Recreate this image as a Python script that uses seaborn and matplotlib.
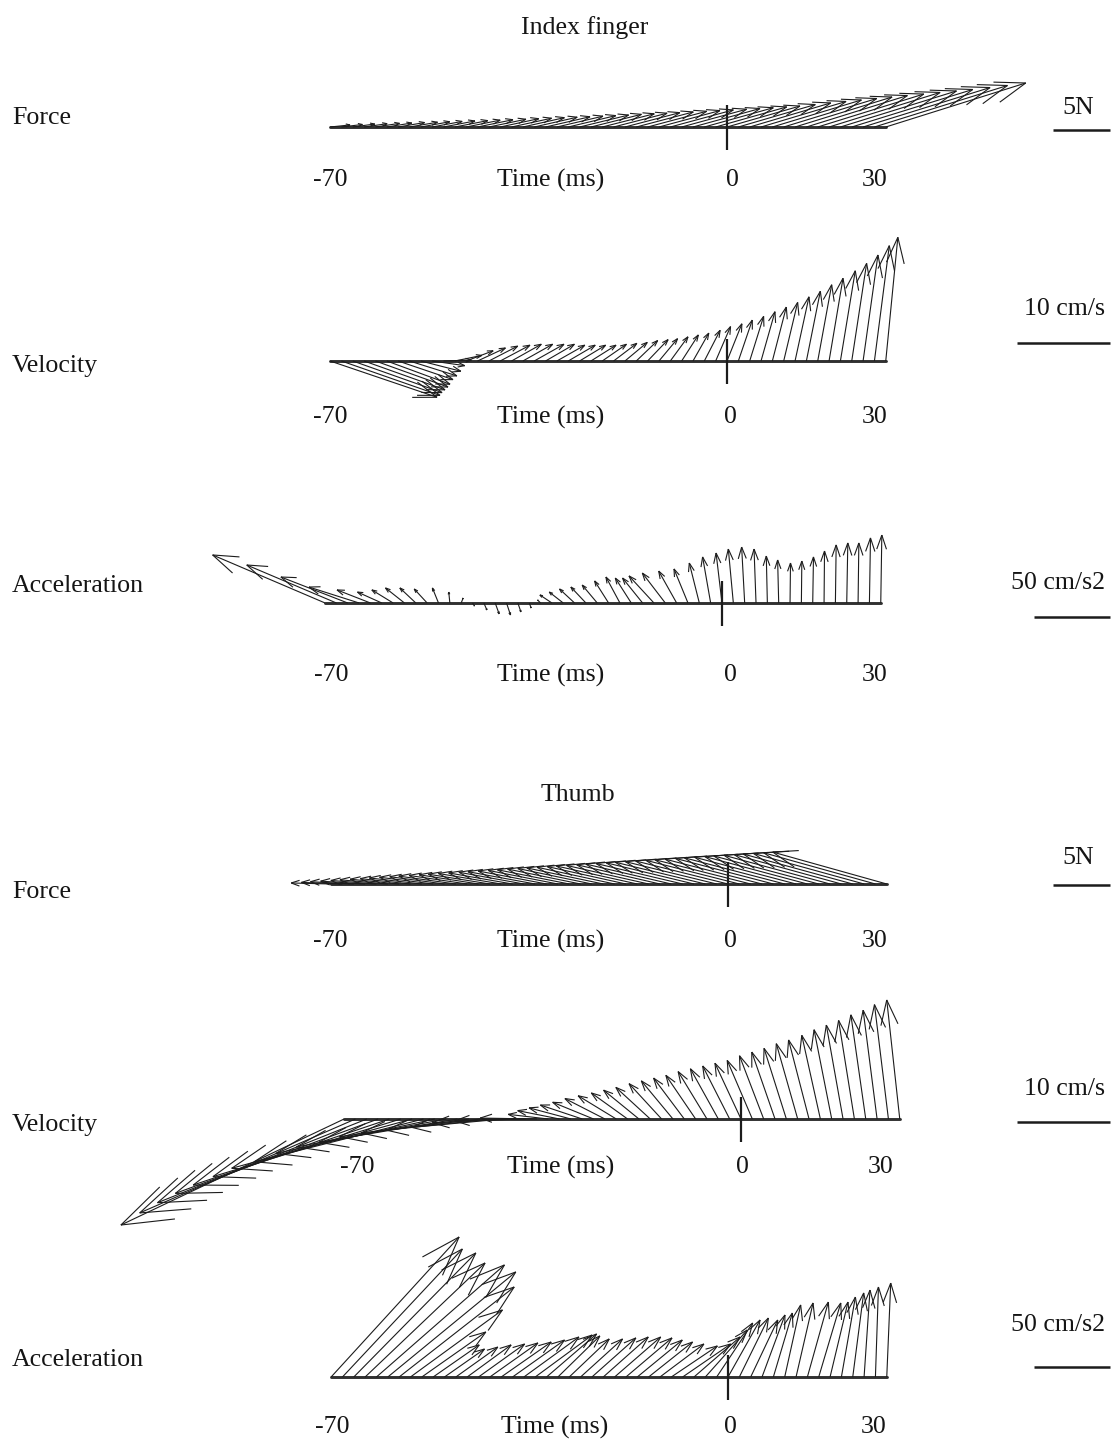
import numpy as np
import matplotlib
matplotlib.use("Agg")
import matplotlib.pyplot as plt
from matplotlib.collections import LineCollection
import seaborn as sns

# ---------------------------------------------------------------- data
# sample times (ms), one vector per sample
TIME_MS = np.arange(-70, 30, 2)

# index finger: grip force (N)
INDEX_FORCE_X = [1.75, 1.84, 1.93, 2.02, 2.11, 2.19, 2.32, 2.46, 2.54, 2.63,
                 2.76, 2.89, 2.98, 3.11, 3.25, 3.38, 3.51, 3.64, 3.77, 3.90,
                 4.04, 4.17, 4.30, 4.43, 4.56, 4.69, 4.82, 5.00, 5.18, 5.35,
                 5.53, 5.70, 5.88, 6.05, 6.23, 6.40, 6.75, 7.11, 7.46, 7.81,
                 8.16, 8.51, 8.86, 9.30, 9.74, 10.18, 10.61, 11.14, 11.67, 12.28]
INDEX_FORCE_Y = [0.18, 0.22, 0.26, 0.29, 0.32, 0.35, 0.39, 0.42, 0.46, 0.49,
                 0.53, 0.56, 0.60, 0.64, 0.68, 0.73, 0.77, 0.82, 0.86, 0.90,
                 0.95, 1.00, 1.05, 1.11, 1.16, 1.21, 1.26, 1.32, 1.38, 1.44,
                 1.50, 1.56, 1.62, 1.69, 1.76, 1.84, 1.97, 2.11, 2.24, 2.37,
                 2.50, 2.63, 2.76, 2.89, 3.03, 3.16, 3.29, 3.46, 3.64, 3.86]

# index finger: velocity (cm/s)
INDEX_VEL_X = [11.5, 10.6, 9.6, 8.7, 7.8, 6.8, 5.9, 5.1, 4.3, 3.5,
               3.0, 2.9, 2.9, 3.0, 3.1, 3.2, 3.2, 3.2, 3.2, 3.1,
               3.0, 2.9, 2.8, 2.7, 2.6, 2.5, 2.4, 2.3, 2.2, 2.0,
               1.9, 1.8, 1.7, 1.7, 1.6, 1.6, 1.5, 1.5, 1.5, 1.5,
               1.5, 1.5, 1.5, 1.5, 1.5, 1.6, 1.6, 1.6, 1.6, 1.3]
INDEX_VEL_Y = [-3.9, -3.7, -3.4, -3.1, -2.8, -2.5, -2.0, -1.6, -1.1, -0.5,
               0.1, 0.6, 1.1, 1.4, 1.6, 1.7, 1.8, 1.8, 1.8, 1.8,
               1.7, 1.7, 1.7, 1.7, 1.8, 1.9, 2.0, 2.2, 2.3, 2.4,
               2.6, 2.8, 3.0, 3.3, 3.7, 4.0, 4.4, 4.8, 5.3, 5.8,
               6.3, 6.9, 7.5, 8.2, 8.9, 9.7, 10.5, 11.4, 12.4, 13.3]

# index finger: acceleration (cm/s2)
INDEX_ACC_X = [-74.0, -59.0, -44.0, -33.0, -22.0, -16.0, -14.0, -12.5, -10.5, -8.5,
               -4.0, -0.7, 1.3, 1.3, 2.0, 2.6, 2.6, 2.0, 1.3, -2.0,
               -7.9, -9.2, -9.9, -9.9, -9.9, -9.2, -9.2, -10.5, -13.2, -16.4,
               -15.1, -11.8, -9.2, -6.6, -5.3, -3.9, -3.3, -2.0, -1.3, -0.7,
               -0.7, 0.3, 0.3, 0.5, 0.3, 0.5, 0.7, 0.5, 0.7, 0.7]
INDEX_ACC_Y = [31.6, 25.0, 17.1, 10.5, 8.6, 7.2, 8.6, 9.9, 9.9, 9.2,
               9.9, 7.2, 3.3, -2.0, -4.6, -7.2, -7.9, -5.9, -3.3, 2.0,
               5.3, 7.2, 9.2, 10.5, 11.8, 14.5, 17.1, 16.4, 16.4, 17.8,
               19.7, 21.0, 22.4, 26.3, 30.3, 32.9, 35.5, 36.8, 35.5, 30.9,
               28.3, 26.3, 27.6, 30.3, 34.2, 38.2, 39.5, 39.5, 42.8, 44.7]

# thumb: grip force (N)
THUMB_FORCE_X = [-3.5, -3.6, -3.8, -3.9, -4.0, -4.2, -4.3, -4.4, -4.6, -4.7,
                 -4.8, -5.0, -5.1, -5.2, -5.4, -5.5, -5.6, -5.7, -5.9, -6.0,
                 -6.1, -6.3, -6.4, -6.5, -6.7, -6.8, -6.9, -7.1, -7.2, -7.3,
                 -7.5, -7.6, -7.7, -7.9, -8.0, -8.1, -8.2, -8.4, -8.5, -8.6,
                 -8.8, -8.9, -9.0, -9.2, -9.3, -9.4, -9.6, -9.7, -9.8, -10.0]
THUMB_FORCE_Y = [0.09, 0.14, 0.20, 0.25, 0.31, 0.37, 0.42, 0.47, 0.53, 0.59,
                 0.64, 0.69, 0.75, 0.81, 0.86, 0.92, 0.97, 1.03, 1.08, 1.14,
                 1.19, 1.25, 1.31, 1.36, 1.41, 1.47, 1.53, 1.58, 1.63, 1.69,
                 1.75, 1.80, 1.86, 1.91, 1.96, 2.02, 2.08, 2.13, 2.18, 2.25,
                 2.30, 2.35, 2.41, 2.46, 2.52, 2.58, 2.63, 2.68, 2.74, 2.80]

# thumb: velocity (cm/s)
THUMB_VEL_X = [-24.0, -23.2, -22.5, -21.8, -21.1, -20.2, -19.4, -18.2, -17.1, -16.1,
               -14.9, -13.9, -12.8, -11.3, -9.8, -8.8, -7.6, -6.1, -4.3, -4.5,
               -4.5, -4.5, -4.4, -4.3, -4.1, -3.9, -3.8, -3.7, -3.5, -3.4,
               -3.3, -3.2, -3.1, -3.0, -2.9, -2.8, -2.7, -2.6, -2.5, -2.4,
               -2.3, -2.2, -2.0, -1.9, -1.8, -1.7, -1.6, -1.5, -1.5, -1.4]
THUMB_VEL_Y = [-11.4, -10.1, -9.0, -8.0, -7.1, -6.2, -5.3, -4.6, -3.7, -3.0,
               -2.5, -1.9, -1.5, -1.2, -0.9, -0.4, -0.2, 0.1, 0.5, 0.9,
               1.2, 1.5, 1.8, 2.2, 2.5, 2.8, 3.1, 3.4, 3.8, 4.1,
               4.4, 4.7, 5.1, 5.4, 5.7, 6.0, 6.3, 6.8, 7.2, 7.6,
               8.1, 8.5, 9.0, 9.6, 10.1, 10.6, 11.2, 11.7, 12.3, 12.8]

# thumb: acceleration (cm/s2)
THUMB_ACC_X = [84.2, 78.9, 80.3, 78.9, 84.2, 84.2, 75.7, 60.5, 42.1, 30.3,
               26.3, 27.6, 28.9, 30.3, 31.6, 32.9, 34.2, 36.2, 37.5, 32.9,
               27.6, 26.3, 27.6, 28.9, 29.6, 30.3, 30.3, 29.6, 28.9, 28.9,
               30.3, 31.6, 30.3, 27.6, 23.7, 21.1, 19.1, 17.8, 15.1, 12.5,
               10.5, 11.2, 13.8, 14.5, 11.8, 9.2, 7.2, 3.9, 2.0, 2.6]
THUMB_ACC_Y = [92.1, 84.2, 81.6, 75.0, 73.7, 69.1, 59.2, 44.1, 29.6, 21.1,
               18.4, 19.7, 21.1, 21.7, 22.4, 23.0, 24.3, 26.3, 27.6, 28.3,
               27.0, 25.0, 25.0, 25.7, 26.3, 26.3, 25.7, 24.3, 23.0, 21.7,
               20.4, 21.7, 26.3, 30.9, 35.5, 37.5, 38.8, 37.5, 40.8, 42.1,
               47.4, 48.7, 49.3, 48.7, 49.3, 52.6, 55.3, 57.2, 59.2, 61.8]

ROW_NAMES = ["Force", "Velocity", "Acceleration"]
SCALE_VALUES = [5, 10, 50]
SCALE_LABELS = ["5N", "10 cm/s", "50 cm/s2"]
TICK_LABELS = ["-70", "Time (ms)", "0", "30"]
GROUP_TITLES = ["Index finger", "Thumb"]

# ---------------------------------------------------------------- style
sns.set_theme(style="white")
plt.rcParams["font.family"] = ["Liberation Serif", "DejaVu Serif"]
TXT = "#151515"
INK = "#1c1c1c"
FS = 18.6

W, H = 1112, 1441
PX_PER_MS = 5.67                      # horizontal and vertical drawing unit
PX_PER_UNIT = {"Force": 11.4, "Velocity": 9.3, "Acceleration": 1.52}
BAR_RIGHT = 1110

fig = plt.figure(figsize=(W / 100, H / 100), dpi=100)
fig.patch.set_facecolor("white")

# panel layout in pixels: band top/bottom, baseline y, zero-time x,
# tick-label y, row-name y, scale bar y, scale label y, tick label x's
PANELS = [
    dict(band=(40, 230),   base=127,  zero=727, lab_y=180,  name_y=118,  bar_y=130,  sl_y=108,  lab_x=(330, 551, 732, 875)),
    dict(band=(230, 470),  base=361,  zero=727, lab_y=417,  name_y=366,  bar_y=343,  sl_y=309,  lab_x=(330, 551, 730, 875)),
    dict(band=(470, 760),  base=603,  zero=722, lab_y=675,  name_y=586,  bar_y=617,  sl_y=583,  lab_x=(331, 551, 730, 875)),
    dict(band=(810, 1000), base=884,  zero=728, lab_y=941,  name_y=892,  bar_y=885,  sl_y=858,  lab_x=(330, 551, 730, 875)),
    dict(band=(1000, 1260), base=1119, zero=741, lab_y=1167, name_y=1125, bar_y=1122, sl_y=1089, lab_x=(357, 561, 742, 881)),
    dict(band=(1260, 1441), base=1377, zero=728, lab_y=1427, name_y=1360, bar_y=1367, sl_y=1325, lab_x=(332, 555, 730, 874)),
]
SCALE_LABEL_X = {"Force": 1078, "Velocity": 1064, "Acceleration": 1058}

SERIES = [
    (INDEX_FORCE_X, INDEX_FORCE_Y), (INDEX_VEL_X, INDEX_VEL_Y), (INDEX_ACC_X, INDEX_ACC_Y),
    (THUMB_FORCE_X, THUMB_FORCE_Y), (THUMB_VEL_X, THUMB_VEL_Y), (THUMB_ACC_X, THUMB_ACC_Y),
]


def vector_segments(t, u, v, unit_len, head=0.22, half_angle=np.deg2rad(19)):
    """Shaft plus an open V head for every vector, in data units."""
    t = np.asarray(t, float)
    du = np.asarray(u, float) * unit_len
    dv = np.asarray(v, float) * unit_len
    x1, y1 = t + du, dv
    length = np.hypot(du, dv)
    ang = np.arctan2(dv, du)
    segs = []
    for i in range(len(t)):
        segs.append([(t[i], 0.0), (x1[i], y1[i])])
        h = head * length[i]
        for s in (1, -1):
            a = ang[i] + s * half_angle
            segs.append([(x1[i], y1[i]), (x1[i] - h * np.cos(a), y1[i] - h * np.sin(a))])
    return segs


for k, (cfg, (u, v)) in enumerate(zip(PANELS, SERIES)):
    row = ROW_NAMES[k % 3]
    top, bottom = cfg["band"]
    zero, base = cfg["zero"], cfg["base"]
    ax = fig.add_axes([0, 1 - bottom / H, 1, (bottom - top) / H])
    ax.set_xlim((0 - zero) / PX_PER_MS, (W - zero) / PX_PER_MS)
    ax.set_ylim((base - bottom) / PX_PER_MS, (base - top) / PX_PER_MS)
    ax.axis("off")

    def dx(px):
        return (px - zero) / PX_PER_MS

    def dy(py):
        return (base - py) / PX_PER_MS

    unit_len = PX_PER_UNIT[row] / PX_PER_MS     # data length per physical unit

    # time baseline
    sns.lineplot(x=[TIME_MS[0], TIME_MS[-1]], y=[0, 0], ax=ax, color="#303030",
                 linewidth=2.1, legend=False)
    # zero-time marker
    ax.plot([0, 0], [dy(base + 23), dy(base - 22)], color="#1c1c1c", lw=1.6,
            clip_on=False, solid_capstyle="butt")

    lc = LineCollection(vector_segments(TIME_MS, u, v, unit_len),
                        colors=INK, linewidths=0.8, clip_on=False)
    ax.add_collection(lc)

    # scale bar
    bar_len = SCALE_VALUES[k % 3] * unit_len
    xe = dx(BAR_RIGHT)
    ax.plot([xe - bar_len, xe], [dy(cfg["bar_y"])] * 2, color="#1c1c1c", lw=1.8,
            clip_on=False, solid_capstyle="butt")
    ax.text(dx(SCALE_LABEL_X[row]), dy(cfg["sl_y"]), SCALE_LABELS[k % 3],
            ha="center", va="center", fontsize=FS, color=TXT)

    # row name and time labels
    ax.text(dx(12), dy(cfg["name_y"]), row, ha="left", va="center",
            fontsize=FS, color=TXT)
    for lab, px in zip(TICK_LABELS, cfg["lab_x"]):
        ax.text(dx(px), dy(cfg["lab_y"]), lab, ha="center", va="center",
                fontsize=FS, color=TXT)

fig.text(585 / W, 1 - 28 / H, GROUP_TITLES[0], ha="center", va="center",
         fontsize=FS, color=TXT)
fig.text(578 / W, 1 - 795 / H, GROUP_TITLES[1], ha="center", va="center",
         fontsize=FS, color=TXT)

fig.savefig("out.png", dpi=100, facecolor="white")
